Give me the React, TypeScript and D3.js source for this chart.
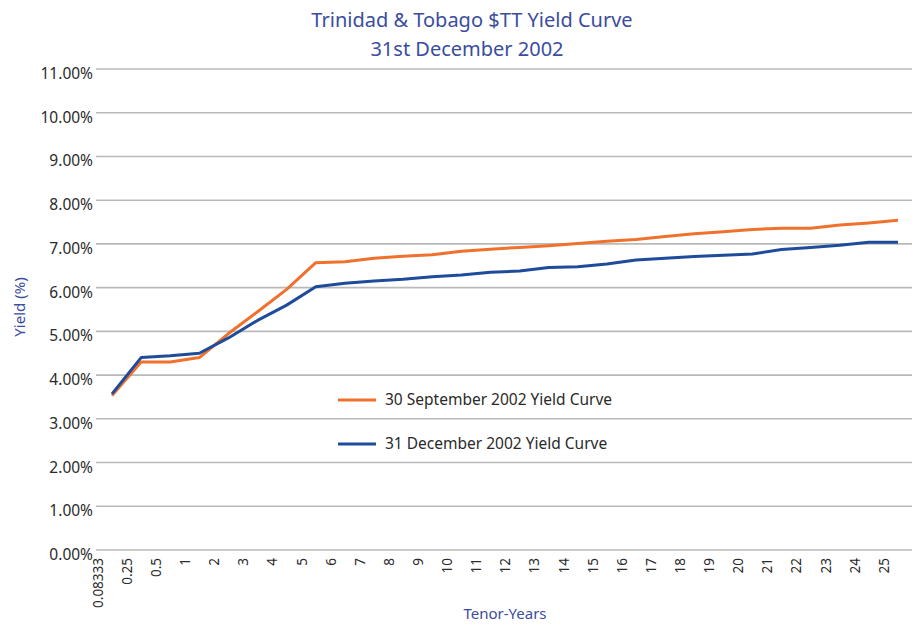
import React, { useEffect, useRef } from 'react';
import * as d3 from 'd3';

const tenors = ['0.08333', '0.25', '0.5', '1', '2', '3', '4', '5', '6', '7', '8', '9', '10', '11', '12', '13', '14', '15', '16', '17', '18', '19', '20', '21', '22', '23', '24', '25'];

// 30 September 2002 curve
const sep2002 = [3.53, 4.30, 4.30, 4.40, 4.95, 5.45, 5.96, 6.57, 6.59, 6.67, 6.72, 6.75, 6.83, 6.88, 6.92, 6.96, 7.01, 7.06, 7.10, 7.17, 7.23, 7.28, 7.33, 7.36, 7.36, 7.43, 7.48, 7.54];
// 31 December 2002 curve
const dec2002 = [3.57, 4.40, 4.44, 4.50, 4.85, 5.25, 5.60, 6.02, 6.10, 6.15, 6.19, 6.25, 6.29, 6.35, 6.38, 6.46, 6.48, 6.54, 6.63, 6.67, 6.71, 6.74, 6.77, 6.87, 6.92, 6.97, 7.04, 7.04];

const yTicks = [0, 1, 2, 3, 4, 5, 6, 7, 8, 9, 10, 11];
const seriesNames = ['30 September 2002 Yield Curve', '31 December 2002 Yield Curve'];

export default function App() {
  const chartRef = useRef<SVGSVGElement>(null);

  useEffect(() => {
    const width = 922;
    const height = 625;
    const font = '"Noto Sans", "Open Sans", sans-serif';
    const titleBlue = '#3a4d9e';
    const colors = ['#f0712b', '#1f4b9b'];

    const svg = d3.select(chartRef.current);
    svg.selectAll('*').remove();
    svg.attr('width', width).attr('height', height);

    const x = d3.scalePoint<string>().domain(tenors).range([112, 898]);
    const y = d3.scaleLinear().domain([0, 11]).range([550, 69]);

    // titles
    svg.append('text')
      .attr('x', 472).attr('y', 27)
      .attr('text-anchor', 'middle')
      .style('font-family', font).style('font-size', '20px')
      .attr('fill', titleBlue)
      .text('Trinidad & Tobago $TT Yield Curve');
    svg.append('text')
      .attr('x', 467).attr('y', 56)
      .attr('text-anchor', 'middle')
      .style('font-family', font).style('font-size', '20px')
      .attr('fill', titleBlue)
      .text('31st December 2002');

    /* ------- GRID + Y LABELS -------*/
    svg.selectAll('line.grid')
      .data(yTicks)
      .enter()
      .append('line')
      .attr('class', 'grid')
      .attr('x1', 96).attr('x2', 912)
      .attr('y1', d => y(d)).attr('y2', d => y(d))
      .attr('stroke', '#b9b9b9')
      .attr('stroke-width', 1.6);

    svg.selectAll('text.ylab')
      .data(yTicks)
      .enter()
      .append('text')
      .attr('class', 'ylab')
      .attr('x', 93)
      .attr('y', d => y(d) + 10)
      .attr('text-anchor', 'end')
      .style('font-family', font).style('font-size', '15.5px')
      .attr('fill', '#2a2a2a')
      .text(d => d3.format('.2f')(d) + '%');

    /* ------- X LABELS -------*/
    svg.selectAll('text.xlab')
      .data(tenors)
      .enter()
      .append('text')
      .attr('class', 'xlab')
      .attr('transform', d => `translate(${(x(d) as number) - 14},558) rotate(-90)`)
      .attr('dy', '0.35em')
      .attr('text-anchor', 'end')
      .style('font-family', font).style('font-size', '13.5px')
      .attr('fill', '#2a2a2a')
      .text(d => d);

    // axis titles
    svg.append('text')
      .attr('transform', 'translate(20,307) rotate(-90)')
      .attr('dy', '0.35em')
      .attr('text-anchor', 'middle')
      .style('font-family', font).style('font-size', '15px')
      .attr('fill', titleBlue)
      .text('Yield (%)');
    svg.append('text')
      .attr('x', 505).attr('y', 619)
      .attr('text-anchor', 'middle')
      .style('font-family', font).style('font-size', '15px')
      .attr('fill', titleBlue)
      .text('Tenor-Years');

    /* ------- LINES -------*/
    const line = d3.line<number>()
      .x((_, i) => x(tenors[i]) as number)
      .y(d => y(d));

    [sep2002, dec2002].forEach((s, i) => {
      svg.append('path')
        .datum(s)
        .attr('d', line)
        .attr('fill', 'none')
        .attr('stroke', colors[i])
        .attr('stroke-width', 3)
        .attr('stroke-linejoin', 'round');
    });

    /* ------- LEGEND -------*/
    const legend = svg.selectAll('g.legend')
      .data(seriesNames)
      .enter()
      .append('g')
      .attr('class', 'legend')
      .attr('transform', (_, i) => `translate(338,${400 + i * 44})`);
    legend.append('line')
      .attr('x1', 0).attr('x2', 38)
      .attr('stroke', (_, i) => colors[i])
      .attr('stroke-width', 3);
    legend.append('text')
      .attr('x', 47).attr('dy', '0.35em')
      .style('font-family', font).style('font-size', '15.5px')
      .attr('fill', '#2a2a2a')
      .text(d => d);
  }, []);

  return (
    <svg ref={chartRef} style={{ position: 'absolute', left: 0, top: 0, background: '#fff' }} />
  );
}
